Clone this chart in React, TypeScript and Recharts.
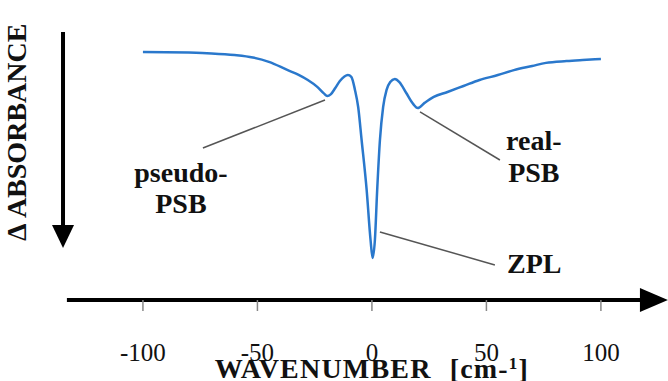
import React from "react";
import { LineChart, Line, XAxis, YAxis, ReferenceLine, ReferenceDot } from "recharts";

// Spectrum (wavenumber in cm-1, change of absorbance, dips are negative)
const wavenumber = [-100, -90, -80, -70, -60, -52, -45, -37, -32, -28, -24, -21, -19.5, -18, -16, -14, -12, -10.5, -9, -7.4, -6, -4.5, -2.3, -0.6, 0.3, 1.3, 2.3, 3.5, 4.9, 6.4, 8, 10, 12, 15, 18, 20, 23, 27, 33, 40, 47, 55, 62, 70, 76, 85, 92, 100];
const deltaA = [0.003, 0.002, 0.0, -0.004, -0.012, -0.024, -0.045, -0.084, -0.108, -0.133, -0.165, -0.198, -0.211, -0.203, -0.172, -0.138, -0.116, -0.109, -0.118, -0.181, -0.264, -0.424, -0.666, -0.909, -0.996, -0.909, -0.666, -0.424, -0.264, -0.181, -0.143, -0.128, -0.143, -0.196, -0.249, -0.269, -0.244, -0.215, -0.191, -0.162, -0.133, -0.109, -0.085, -0.065, -0.05, -0.041, -0.036, -0.031];
const xTicks = [-100, -50, 0, 50, 100];

const data = wavenumber.map((w, i) => ({ w, a: deltaA[i] }));

const X_DOMAIN: [number, number] = [-138.4, 129.3];
const Y_DOMAIN: [number, number] = [-1.2, 0.158];

const SERIF = '"Liberation Serif", "Tinos", "Times New Roman", Times, "DejaVu Serif", serif';
const LEADER = "#555";

const textShape = (lines: string[], opts: { size: number; lineGap?: number; rotate?: boolean }) =>
  (props: any) => {
    const { cx, cy } = props;
    const st = { fontFamily: SERIF, fontWeight: 700, fontSize: opts.size } as React.CSSProperties;
    if (opts.rotate) {
      return (
        <text x={cx} y={cy} transform={`rotate(-90 ${cx} ${cy})`} textAnchor="middle" style={st} fill="#111">
          {lines[0]}
        </text>
      );
    }
    return (
      <text x={cx} y={cy} textAnchor="middle" style={st} fill="#111">
        {lines.map((l, i) => (
          <tspan key={i} x={cx} dy={i === 0 ? 0 : opts.lineGap ?? 31}>{l}</tspan>
        ))}
      </text>
    );
  };

const titleShape = (props: any) => {
  const { cx, cy } = props;
  return (
    <text x={cx} y={cy} textAnchor="middle" style={{ fontFamily: SERIF, fontWeight: 700, fontSize: 28, letterSpacing: 1.2 }} fill="#111">
      WAVENUMBER
      <tspan dx={18}>[cm-</tspan>
      <tspan style={{ fontSize: 17 }} dy={-9}>1</tspan>
      <tspan dy={9}>]</tspan>
    </text>
  );
};

const tickShape = (props: any) => {
  const { x, y, payload } = props;
  return (
    <text x={x} y={y} dy={16} textAnchor="middle" style={{ fontFamily: SERIF, fontSize: 25 }} fill="#111">
      {payload.value}
    </text>
  );
};

const arrowRight = (props: any) => {
  const { cx, cy } = props;
  return <polygon points={`${cx - 28},${cy - 12} ${cx},${cy} ${cx - 28},${cy + 12}`} fill="#000" />;
};
const arrowDown = (props: any) => {
  const { cx, cy } = props;
  return <polygon points={`${cx - 11},${cy - 23} ${cx},${cy} ${cx + 11},${cy - 23}`} fill="#000" />;
};

export default function App() {
  return (
    <div style={{ position: "absolute", left: 0, top: 0, background: "#fff" }}>
      <LineChart width={668} height={381} data={data} margin={{ top: 20, right: 0, bottom: 0, left: 55 }}>
        <XAxis
          dataKey="w"
          type="number"
          domain={X_DOMAIN}
          allowDataOverflow
          ticks={xTicks}
          height={81}
          axisLine={false}
          tickLine={{ stroke: "#888", strokeWidth: 1.5 }}
          tickSize={11}
          tickMargin={34}
          tick={tickShape}
          interval={0}
        />
        <YAxis hide type="number" domain={Y_DOMAIN} allowDataOverflow />
        {/* axes as arrows */}
        <ReferenceLine segment={[{ x: -133.2, y: -1.2 }, { x: 119.5, y: -1.2 }]} stroke="#000" strokeWidth={4} ifOverflow="visible" />
        <ReferenceDot x={129.26} y={-1.2} r={1} shape={arrowRight} ifOverflow="visible" />
        <ReferenceLine segment={[{ x: -134.9, y: 0.1 }, { x: -134.9, y: -0.86 }]} stroke="#000" strokeWidth={4} ifOverflow="visible" />
        <ReferenceDot x={-134.9} y={-0.948} r={1} shape={arrowDown} ifOverflow="visible" />
        {/* leader lines */}
        <ReferenceLine segment={[{ x: -73.8, y: -0.463 }, { x: -20.5, y: -0.23 }]} stroke={LEADER} strokeWidth={1.5} ifOverflow="visible" />
        <ReferenceLine segment={[{ x: 21.0, y: -0.288 }, { x: 55.9, y: -0.521 }]} stroke={LEADER} strokeWidth={1.5} ifOverflow="visible" />
        <ReferenceLine segment={[{ x: 3.5, y: -0.87 }, { x: 53.7, y: -1.03 }]} stroke={LEADER} strokeWidth={1.5} ifOverflow="visible" />
        <Line type="monotone" dataKey="a" stroke="#2a78cc" strokeWidth={2.5} dot={false} isAnimationActive={false} />
        {/* annotations */}
        <ReferenceDot x={-83.4} y={-0.629} r={1} shape={textShape(["pseudo-", "PSB"], { size: 28, lineGap: 31 })} ifOverflow="visible" />
        <ReferenceDot x={70.7} y={-0.472} r={1} shape={textShape(["real-", "PSB"], { size: 28, lineGap: 32 })} ifOverflow="visible" />
        <ReferenceDot x={70.9} y={-1.069} r={1} shape={textShape(["ZPL"], { size: 28 })} ifOverflow="visible" />
        <ReferenceDot x={-151.0} y={-0.387} r={1} shape={textShape(["\u0394 ABSORBANCE"], { size: 28, rotate: true })} ifOverflow="visible" />
        <ReferenceDot x={0} y={-1.578} r={1} shape={titleShape} ifOverflow="visible" />
      </LineChart>
    </div>
  );
}
